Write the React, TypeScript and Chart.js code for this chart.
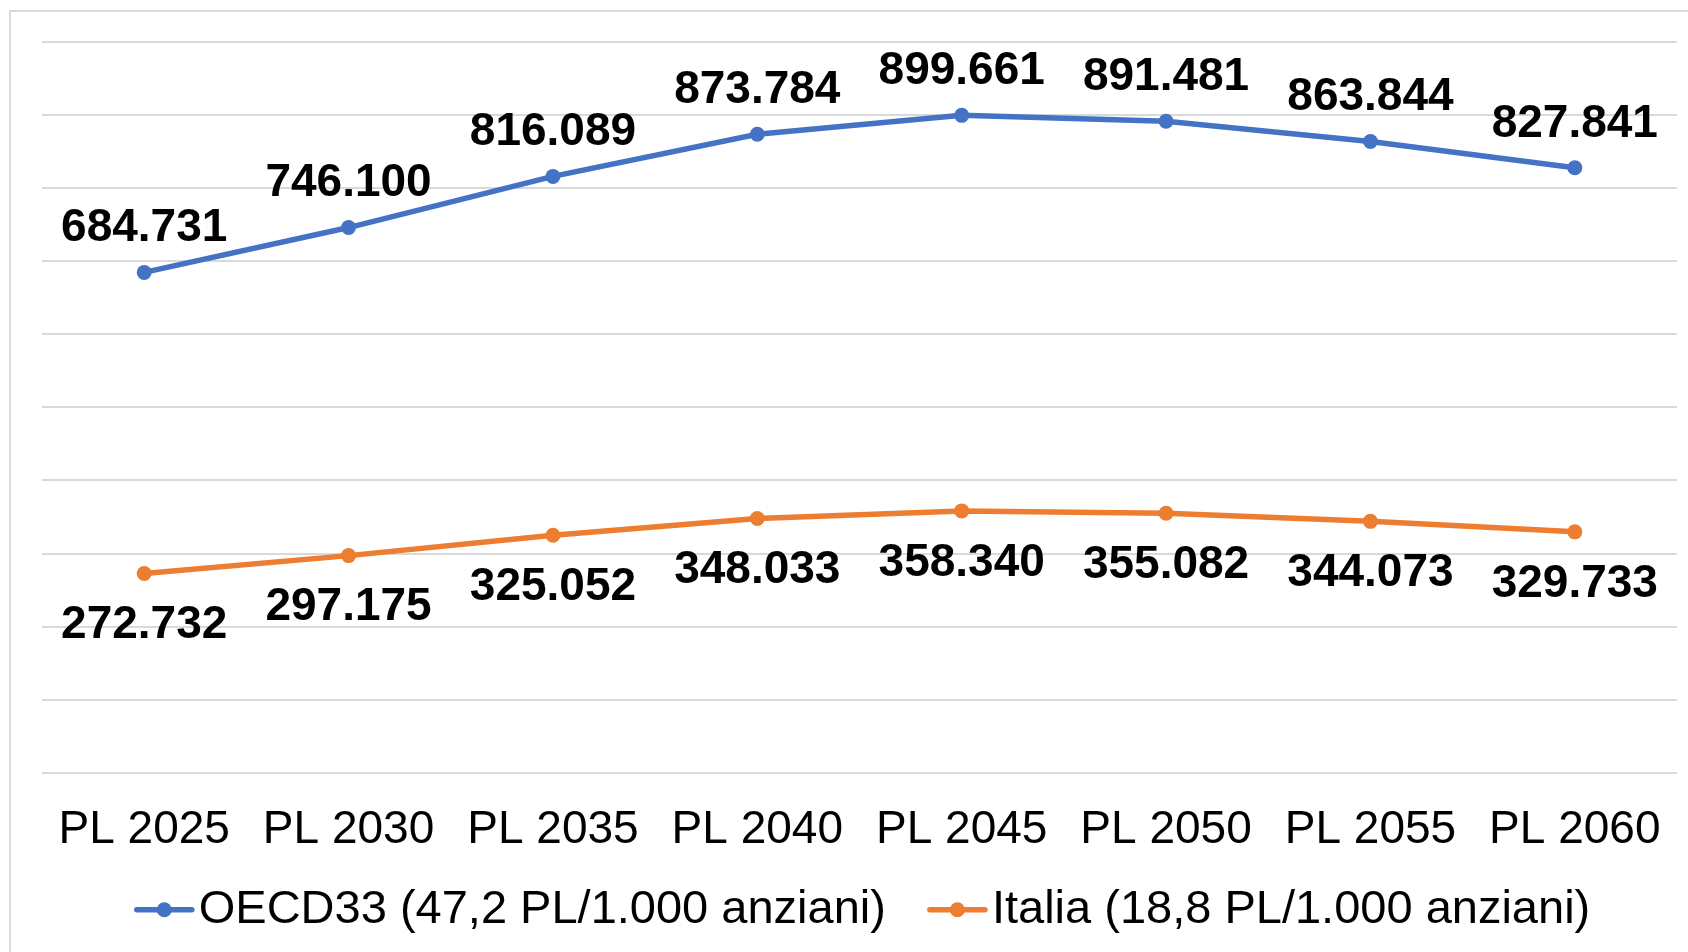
import React, { useEffect, useRef } from "react";
import { Chart, registerables } from "chart.js";

Chart.register(...registerables);

const categories = ["PL 2025", "PL 2030", "PL 2035", "PL 2040", "PL 2045", "PL 2050", "PL 2055", "PL 2060"];
const oecdValues = [684731, 746100, 816089, 873784, 899661, 891481, 863844, 827841];
const italiaValues = [272732, 297175, 325052, 348033, 358340, 355082, 344073, 329733];
const seriesLabels = ["OECD33 (47,2 PL/1.000 anziani)", "Italia (18,8 PL/1.000 anziani)"];
const yMin = 0;
const yMax = 1000000;
const yStep = 100000;

const BLUE = "#4472C4";
const ORANGE = "#ED7D31";
const FONT = "'Liberation Sans', Arial, Helvetica, sans-serif";

function fmt(v: number): string {
  return Math.round(v).toString().replace(/\B(?=(\d{3})+(?!\d))/g, ".");
}

const valueLabelPlugin = {
  id: "valueLabels",
  afterDatasetsDraw(chart: any) {
    const ctx = chart.ctx;
    ctx.save();
    ctx.font = `bold 46px ${FONT}`;
    ctx.fillStyle = "#000";
    ctx.textAlign = "center";
    ctx.textBaseline = "middle";
    chart.data.datasets.forEach((ds: any, i: number) => {
      const meta = chart.getDatasetMeta(i);
      meta.data.forEach((pt: any, j: number) => {
        const dy = i === 0 ? -44 : 52;
        ctx.fillText(fmt(ds.data[j]), pt.x, pt.y + dy);
      });
    });
    ctx.restore();
  },
};

const lineLegendPlugin = {
  id: "lineLegend",
  afterDraw(chart: any) {
    const ctx = chart.ctx;
    const ds = chart.data.datasets;
    const area = chart.chartArea;
    ctx.save();
    ctx.font = `47px ${FONT}`;
    ctx.textBaseline = "middle";
    ctx.textAlign = "left";
    const iconW = 59;
    const iconGap = 5;
    const itemGap = 42;
    const widths = ds.map((d: any) => ctx.measureText(d.label).width);
    const total =
      widths.reduce((a: number, b: number) => a + b, 0) +
      ds.length * (iconW + iconGap) +
      (ds.length - 1) * itemGap;
    const cx = (area.left + area.right) / 2 + 3;
    let x = cx - total / 2;
    const y = area.bottom + 137;
    ds.forEach((d: any, i: number) => {
      const color = d.borderColor;
      ctx.strokeStyle = color;
      ctx.lineWidth = 5.5;
      ctx.lineCap = "round";
      ctx.beginPath();
      ctx.moveTo(x + 2, y);
      ctx.lineTo(x + iconW - 2, y);
      ctx.stroke();
      ctx.fillStyle = color;
      ctx.beginPath();
      ctx.arc(x + iconW / 2, y, 7.5, 0, Math.PI * 2);
      ctx.fill();
      ctx.fillStyle = "#000";
      ctx.fillText(d.label, x + iconW + iconGap, y);
      x += iconW + iconGap + widths[i] + itemGap;
    });
    ctx.restore();
  },
};

export default function App() {
  const ref = useRef<HTMLCanvasElement>(null);

  useEffect(() => {
    if (!ref.current) return;
    const chart = new Chart(ref.current, {
      type: "line",
      data: {
        labels: categories,
        datasets: [
          {
            label: seriesLabels[0],
            data: oecdValues,
            borderColor: BLUE,
            backgroundColor: BLUE,
            borderWidth: 5.5,
            pointRadius: 7.5,
            pointBackgroundColor: BLUE,
            pointBorderWidth: 0,
            tension: 0,
          },
          {
            label: seriesLabels[1],
            data: italiaValues,
            borderColor: ORANGE,
            backgroundColor: ORANGE,
            borderWidth: 5.5,
            pointRadius: 7.5,
            pointBackgroundColor: ORANGE,
            pointBorderWidth: 0,
            tension: 0,
          },
        ],
      },
      options: {
        responsive: false,
        animation: false,
        devicePixelRatio: 1,
        layout: { padding: { left: 42, right: 11, top: 42, bottom: 72 } },
        plugins: {
          legend: { display: false },
          tooltip: { enabled: false },
        },
        scales: {
          x: {
            offset: true,
            grid: { display: false },
            border: { display: false },
            ticks: {
              color: "#000",
              font: { family: FONT, size: 46 },
              padding: 22,
              maxRotation: 0,
              autoSkip: false,
            },
          },
          y: {
            min: yMin,
            max: yMax,
            ticks: { display: false, stepSize: yStep },
            grid: { color: "#d9d9d9", lineWidth: 2, drawTicks: false },
            border: { display: false },
          },
        },
      },
      plugins: [valueLabelPlugin, lineLegendPlugin],
    } as any);
    return () => chart.destroy();
  }, []);

  return (
    <div
      style={{
        position: "fixed",
        left: 0,
        top: 0,
        width: 1688,
        height: 952,
        overflow: "hidden",
        background: "#fff",
      }}
    >
      <div
        style={{
          position: "absolute",
          left: 9,
          top: 10,
          width: 1700,
          height: 1000,
          borderLeft: "2px solid #d9d9d9",
          borderTop: "2px solid #d9d9d9",
        }}
      />
      <canvas
        ref={ref}
        width={1688}
        height={952}
        style={{ position: "absolute", left: 0, top: 0, width: 1688, height: 952 }}
      />
    </div>
  );
}
